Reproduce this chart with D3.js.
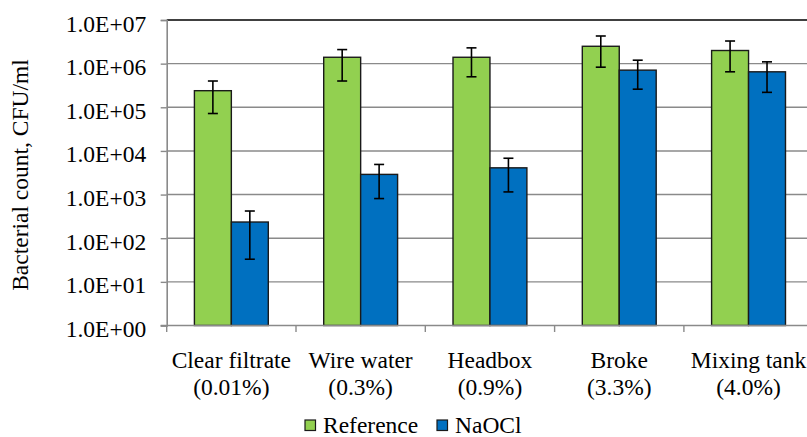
<!DOCTYPE html>
<html>
<head>
<meta charset="utf-8">
<script src="https://cdn.jsdelivr.net/npm/d3@7"></script>
<style>
  html, body { margin: 0; padding: 0; background: #fff; }
  svg { display: block; }
</style>
</head>
<body>
<svg id="chart" width="807" height="437"></svg>
<script>
const categories = ["Clear filtrate", "Wire water", "Headbox", "Broke", "Mixing tank"];
const subLabels = ["(0.01%)", "(0.3%)", "(0.9%)", "(3.3%)", "(4.0%)"];
const seriesNames = ["Reference", "NaOCl"];
const referenceValues = [2.4e5, 1.4e6, 1.4e6, 2.5e6, 2.0e6];
const referenceLow    = [7.2e4, 4.0e5, 5.0e5, 8.3e5, 6.5e5];
const referenceHigh   = [4.0e5, 2.1e6, 2.3e6, 4.3e6, 3.3e6];
const naoclValues = [2.35e2, 2.9e3, 4.1e3, 7.1e5, 6.5e5];
const naoclLow    = [33, 810, 1150, 2.6e5, 2.2e5];
const naoclHigh   = [420, 4.9e3, 6.8e3, 1.2e6, 1.1e6];
const yTickValues = [1, 1e1, 1e2, 1e3, 1e4, 1e5, 1e6, 1e7];
const yTickLabels = ["1.0E+00", "1.0E+01", "1.0E+02", "1.0E+03", "1.0E+04", "1.0E+05", "1.0E+06", "1.0E+07"];
const colors = { "Reference": "#92D050", "NaOCl": "#0070C0" };

(function () {
const FONT = 23.5;
const FAMILY = "'Liberation Serif', LiberationSerif, Tinos, 'Times New Roman', Times, 'Nimbus Roman', 'Noto Serif', 'DejaVu Serif', serif";
const pLeft = 166.7, pRight = 813.2, pTop = 20, pBottom = 325.5;
const svg = d3.select("#chart").style("font-family", FAMILY);

const y = d3.scaleLog().domain([1, 1e7]).range([pBottom, pTop]);
const x0 = d3.scaleBand().domain(categories).range([pLeft, pRight]).paddingInner(0).paddingOuter(0);
const x1 = d3.scaleBand().domain(seriesNames).range([0, x0.bandwidth()]).paddingInner(0).paddingOuter(0.75);

// gridlines
svg.append("g").selectAll("line")
  .data(yTickValues.filter(v => v > 1 && v < 1e7))
  .join("line")
  .attr("x1", pLeft).attr("x2", 807)
  .attr("y1", d => y(d)).attr("y2", d => y(d))
  .attr("stroke", "#8a8a8a").attr("stroke-width", 1.4);

// top border
svg.append("line")
  .attr("x1", pLeft).attr("x2", 807)
  .attr("y1", y(1e7)).attr("y2", y(1e7))
  .attr("stroke", "#000").attr("stroke-width", 1.4);

// y axis
const yAxis = d3.axisLeft(y)
  .tickValues(yTickValues)
  .tickFormat((d, i) => yTickLabels[i])
  .tickSize(6)
  .tickPadding(14.5);
const yg = svg.append("g").attr("transform", `translate(${pLeft},0)`).call(yAxis)
  .attr("font-family", null).attr("font-size", null);
yg.select(".domain").attr("stroke", "#8a8a8a").attr("stroke-width", 1.6);
yg.selectAll(".tick line").attr("stroke", "#8a8a8a").attr("stroke-width", 1.4);
yg.selectAll(".tick text")
  .style("font-family", FAMILY)
  .attr("font-size", FONT)
  .attr("fill", "#000")
  .attr("dy", "0.47em");

// bars
const data = categories.map((c, i) => ({
  cat: c,
  vals: [
    { s: "Reference", v: referenceValues[i], lo: referenceLow[i], hi: referenceHigh[i] },
    { s: "NaOCl", v: naoclValues[i], lo: naoclLow[i], hi: naoclHigh[i] }
  ]
}));

const groups = svg.append("g").selectAll("g")
  .data(data).join("g")
  .attr("transform", d => `translate(${x0(d.cat)},0)`);

groups.selectAll("rect")
  .data(d => d.vals).join("rect")
  .attr("x", d => x1(d.s))
  .attr("width", x1.bandwidth())
  .attr("y", d => y(d.v))
  .attr("height", d => y(1) - y(d.v))
  .attr("fill", d => colors[d.s])
  .attr("stroke", "#1a1a1a")
  .attr("stroke-width", 1.4);

// error bars
const eb = groups.selectAll("g.err")
  .data(d => d.vals).join("g").attr("class", "err")
  .attr("transform", d => `translate(${x1(d.s) + x1.bandwidth() / 2},0)`);
eb.append("line")
  .attr("x1", 0).attr("x2", 0)
  .attr("y1", d => y(d.lo)).attr("y2", d => y(d.hi))
  .attr("stroke", "#000").attr("stroke-width", 1.6);
eb.append("line")
  .attr("x1", -5).attr("x2", 5)
  .attr("y1", d => y(d.hi)).attr("y2", d => y(d.hi))
  .attr("stroke", "#000").attr("stroke-width", 1.6);
eb.append("line")
  .attr("x1", -5).attr("x2", 5)
  .attr("y1", d => y(d.lo)).attr("y2", d => y(d.lo))
  .attr("stroke", "#000").attr("stroke-width", 1.6);

// x axis
svg.append("line")
  .attr("x1", pLeft - 6).attr("x2", 807)
  .attr("y1", pBottom).attr("y2", pBottom)
  .attr("stroke", "#8a8a8a").attr("stroke-width", 1.6);
svg.append("g").selectAll("line")
  .data(categories.concat(["__end"]))
  .join("line")
  .attr("x1", d => d === "__end" ? pRight : x0(d))
  .attr("x2", d => d === "__end" ? pRight : x0(d))
  .attr("y1", pBottom).attr("y2", pBottom + 6.5)
  .attr("stroke", "#8a8a8a").attr("stroke-width", 1.4);

const labels = svg.append("g").selectAll("text")
  .data(categories).join("text")
  .attr("text-anchor", "middle")
  .attr("font-size", FONT)
  .attr("fill", "#000");
labels.append("tspan")
  .attr("x", d => x0(d) + x0.bandwidth() / 2)
  .attr("y", 368)
  .text(d => d);
labels.append("tspan")
  .attr("x", d => x0(d) + x0.bandwidth() / 2)
  .attr("y", 395)
  .text((d, i) => subLabels[i]);

// y title
svg.append("text")
  .attr("transform", `translate(28,175) rotate(-90)`)
  .attr("text-anchor", "middle")
  .attr("font-size", FONT)
  .attr("fill", "#000")
  .text("Bacterial count, CFU/ml");

// legend
const legendX = [305, 437];
const lg = svg.append("g").selectAll("g")
  .data(seriesNames).join("g")
  .attr("transform", (d, i) => `translate(${legendX[i]},0)`);
lg.append("rect")
  .attr("x", 0).attr("y", 420)
  .attr("width", 10.5).attr("height", 10.5)
  .attr("fill", d => colors[d])
  .attr("stroke", "#1a1a1a").attr("stroke-width", 1.2);
lg.append("text")
  .attr("x", 18).attr("y", 432.5)
  .attr("font-size", FONT)
  .attr("fill", "#000")
  .text(d => d);
})();
</script>
</body>
</html>
